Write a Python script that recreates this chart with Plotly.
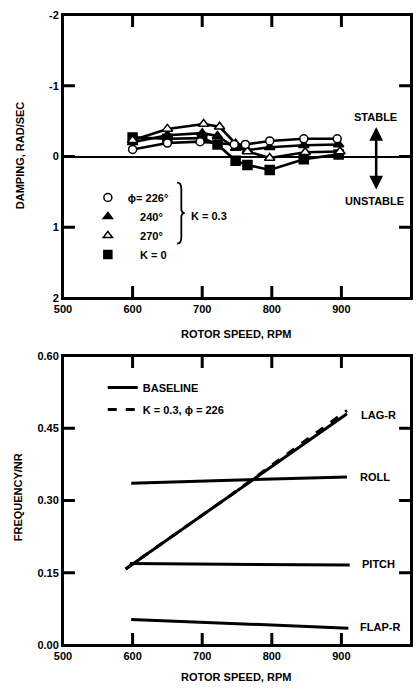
import plotly.graph_objects as go

# ---------------- data: top panel (damping) ----------------
rpm_226 = [600, 650, 697, 746, 762, 797, 846, 894]
damp_226 = [-0.10, -0.19, -0.21, -0.17, -0.17, -0.22, -0.25, -0.25]

rpm_240 = [600, 650, 700, 722, 748, 765, 797, 846, 896]
damp_240 = [-0.20, -0.30, -0.33, -0.29, -0.12, -0.09, -0.13, -0.16, -0.17]

rpm_270 = [600, 650, 702, 725, 748, 765, 797, 848, 898]
damp_270 = [-0.23, -0.39, -0.46, -0.42, -0.18, -0.07, 0.02, -0.06, -0.07]

rpm_k0 = [600, 650, 700, 722, 748, 765, 797, 846, 896]
damp_k0 = [-0.27, -0.25, -0.26, -0.17, 0.06, 0.12, 0.19, 0.04, -0.03]

# ---------------- data: bottom panel (frequency) ----------------
rpm_lag = [590, 908]
freq_lag = [0.158, 0.480]
rpm_lag_k = [590, 740, 908]
freq_lag_k = [0.158, 0.310, 0.487]
rpm_roll = [598, 908]
freq_roll = [0.336, 0.349]
rpm_pitch = [596, 912]
freq_pitch = [0.169, 0.166]
rpm_flap = [598, 910]
freq_flap = [0.053, 0.035]

x_ticks = [500, 600, 700, 800, 900, 1000]
x_ticktext = ["500", "600", "700", "800", "900", "1000"]
damp_ticks = [-2, -1, 0, 1, 2]
damp_ticktext = ["-2", "-1", "0", "1", "2"]
freq_ticks = [0.0, 0.15, 0.30, 0.45, 0.60]
freq_ticktext = ["0.00", "0.15", "0.30", "0.45", "0.60"]

x_range = [500, 1000]
damp_range = [2, -2]
freq_range = [0, 0.6]

FONT = "Liberation Sans"
BLACK = "#000000"

# layout geometry (pixels)
W, H = 420, 697
ML, MR, MT, MB = 63, 7, 15, 52
PLOT_W = W - ML - MR
PLOT_H = H - MT - MB
TOP_PX = (15, 298)
BOT_PX = (356, 645)
top_dom = [(645 - TOP_PX[1]) / PLOT_H, 1.0]
bot_dom = [0.0, (645 - BOT_PX[0]) / PLOT_H]
TL = 12  # tick length in px

fig = go.Figure()

# --- top panel series (lines + markers, not in legend) ---
def series(x, y, symbol, fill, size):
    fig.add_trace(go.Scatter(
        x=x, y=y, mode="lines+markers", xaxis="x", yaxis="y",
        line=dict(color=BLACK, width=2.6),
        marker=dict(symbol=symbol, size=size, color=fill,
                    line=dict(color=BLACK, width=1.5)),
        showlegend=False, hoverinfo="skip"))

series(rpm_k0, damp_k0, "square", BLACK, 9)
series(rpm_240, damp_240, "triangle-up", BLACK, 9)
series(rpm_270, damp_270, "triangle-up", "white", 9)
series(rpm_226, damp_226, "circle", "white", 8)

# --- top legend keys (markers only) ---
NB = "\u00a0"
legend_keys = [
    ("circle", "white", "\u03d5= 226\u00b0"),
    ("triangle-up", BLACK, NB * 4 + "240\u00b0"),
    ("triangle-up", "white", NB * 4 + "270\u00b0"),
    ("square", BLACK, NB * 4 + "K = 0"),
]
for sym, fill, name in legend_keys:
    fig.add_trace(go.Scatter(
        x=[None], y=[None], mode="markers", xaxis="x", yaxis="y",
        marker=dict(symbol=sym, size=8, color=fill,
                    line=dict(color=BLACK, width=1.5)),
        name=name, legend="legend", showlegend=True))

# --- bottom panel ---
def freq_line(x, y, dash, name=None, show=False, group=None):
    fig.add_trace(go.Scatter(
        x=x, y=y, mode="lines", xaxis="x2", yaxis="y2",
        line=dict(color=BLACK, width=3, dash=dash),
        name=name, showlegend=show, legend="legend2",
        legendgroup=group, hoverinfo="skip"))

freq_line(rpm_lag, freq_lag, "solid", "BASELINE", True, "a")
freq_line(rpm_roll, freq_roll, "solid")
freq_line(rpm_pitch, freq_pitch, "solid")
freq_line(rpm_flap, freq_flap, "solid")
freq_line(rpm_lag_k, freq_lag_k, "dash", "K = 0.3, \u03d5 = 226", True, "b")

# --- inside tick marks on all four sides, built from the tick arrays and axis ranges ---
def tick_trace(xa, ya, xr, yr, xt, yt, panel_h):
    dx = (xr[1] - xr[0]) * TL / PLOT_W
    dy = (yr[1] - yr[0]) * TL / panel_h
    xs, ys = [], []
    for v in xt[1:-1]:
        xs += [v, v, None, v, v, None]
        ys += [yr[0], yr[0] + dy, None, yr[1], yr[1] - dy, None]
    for v in yt[1:-1]:
        xs += [xr[0], xr[0] + dx, None, xr[1], xr[1] - dx, None]
        ys += [v, v, None, v, v, None]
    fig.add_trace(go.Scatter(x=xs, y=ys, mode="lines", xaxis=xa, yaxis=ya,
                             line=dict(color=BLACK, width=3),
                             showlegend=False, hoverinfo="skip"))

tick_trace("x", "y", x_range, damp_range, x_ticks, damp_ticks, TOP_PX[1] - TOP_PX[0])
tick_trace("x2", "y2", x_range, freq_range, x_ticks, freq_ticks, BOT_PX[1] - BOT_PX[0])

TICKFONT = dict(family=FONT, size=11, color=BLACK, weight="bold")
axis_common = dict(
    showline=True, linecolor=BLACK, linewidth=2, mirror=True,
    ticks="", showgrid=False, zeroline=False, tickfont=TICKFONT,
)

fig.update_layout(
    width=W, height=H,
    margin=dict(l=ML, r=MR, t=MT, b=MB),
    paper_bgcolor="white", plot_bgcolor="white",
    font=dict(family=FONT, size=11, color=BLACK, weight="bold"),
    xaxis=dict(axis_common, domain=[0, 1], range=x_range, anchor="y",
               tickmode="array", tickvals=x_ticks, ticktext=x_ticktext),
    yaxis=dict(axis_common, domain=top_dom, range=damp_range, anchor="x",
               tickmode="array", tickvals=damp_ticks, ticktext=damp_ticktext,
               zeroline=True, zerolinecolor=BLACK, zerolinewidth=2),
    xaxis2=dict(axis_common, domain=[0, 1], range=x_range, anchor="y2",
                tickmode="array", tickvals=x_ticks, ticktext=x_ticktext),
    yaxis2=dict(axis_common, domain=bot_dom, range=freq_range, anchor="x2",
                tickmode="array", tickvals=freq_ticks, ticktext=freq_ticktext),
    legend=dict(x=(88 - 63) / 350, y=(645 - 183) / 630, xanchor="left", yanchor="top",
                bgcolor="rgba(0,0,0,0)", borderwidth=0,
                font=dict(family=FONT, size=11, color=BLACK, weight="bold")),
    legend2=dict(x=(103 - 63) / 350, y=(645 - 373) / 630, xanchor="left", yanchor="top",
                 bgcolor="rgba(0,0,0,0)", borderwidth=0, tracegroupgap=3,
                 traceorder="grouped",
                 font=dict(family=FONT, size=11, color=BLACK, weight="bold")),
)

# frames
for xr, yr in (("x domain", "y domain"), ("x2 domain", "y2 domain")):
    fig.add_shape(type="rect", xref=xr, yref=yr, x0=0, x1=1, y0=0, y1=1,
                  line=dict(color=BLACK, width=2), fillcolor="rgba(0,0,0,0)")

def px_x(p):
    return (p - ML) / PLOT_W

def px_y(p):
    return (645 - p) / PLOT_H

def note(text, x, y, xanchor="center", size=11, angle=0):
    fig.add_annotation(text=text, x=px_x(x), y=px_y(y), xref="paper", yref="paper",
                       showarrow=False, xanchor=xanchor, yanchor="middle", textangle=angle,
                       font=dict(family=FONT, size=size, color=BLACK, weight="bold"))

# axis titles
note("DAMPING, RAD/SEC", 20, 155, angle=-90, size=11)
note("FREQUENCY/NR", 18, 497, angle=-90, size=11)
note("ROTOR SPEED, RPM", 237, 334)
note("ROTOR SPEED, RPM", 237, 677)

# top annotations
note("K = 0.3", 190, 216, xanchor="left")
note("STABLE", 377, 117)
note("UNSTABLE", 376, 201)
fig.add_annotation(x=px_x(378), y=px_y(127), xref="paper", yref="paper",
                   ax=0, ay=64, showarrow=True, arrowside="end+start",
                   arrowhead=2, startarrowhead=2, arrowsize=1.1, startarrowsize=1.1,
                   arrowwidth=2.5, arrowcolor=BLACK, text="")

# bracket for K = 0.3 group
fig.add_shape(type="path", xref="x", yref="y",
              path="M 664,0.37 Q 670,0.37 670,0.46 L 670,0.74 Q 670,0.80 675,0.80 "
                   "Q 670,0.80 670,0.86 L 670,1.14 Q 670,1.23 664,1.23",
              line=dict(color=BLACK, width=1.8))

# bottom mode labels
note("LAG-R", 361, 415, xanchor="left")
note("ROLL", 360, 477, xanchor="left")
note("PITCH", 362, 564, xanchor="left")
note("FLAP-R", 360, 627, xanchor="left")

fig.write_html(
    "out.html",
    config={"displayModeBar": False},
    post_script="document.body.style.margin='0px';document.body.style.padding='0px';",
)
